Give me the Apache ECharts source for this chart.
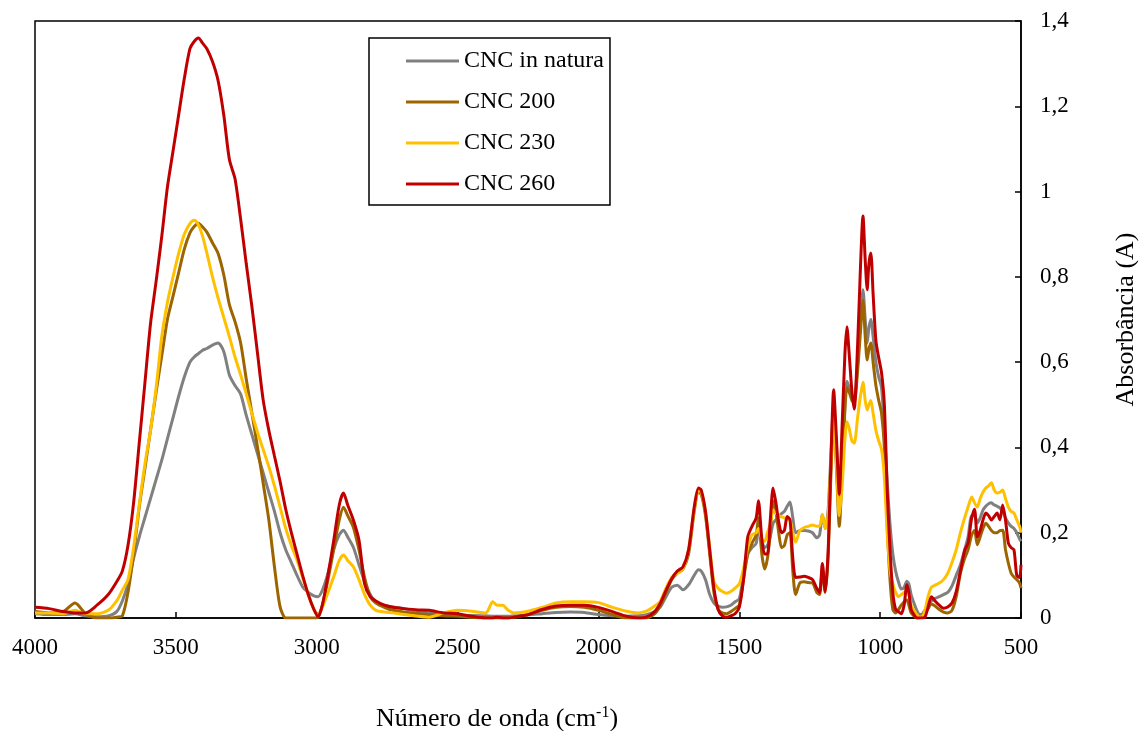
<!DOCTYPE html>
<html>
<head>
<meta charset="utf-8">
<script src="https://cdn.jsdelivr.net/npm/echarts@6/dist/echarts.min.js"></script>
<style>
html, body { margin: 0; padding: 0; background: #fff; }
#chart { width: 1143px; height: 731px; }
</style>
</head>
<body>
<div id="chart"></div>
<script>
var seriesNames = ['CNC in natura', 'CNC 200', 'CNC 230', 'CNC 260'];
var colors = ['#808080', '#9c6500', '#ffc000', '#c00000'];

// número de onda (cm-1)
var wn = [
    4000,3950,3900,3858,3820,3780,3740,3710,3690,3670,
    3650,3630,3610,3590,3570,3550,3530,3510,3490,3470,
    3450,3435,3420,3405,3390,3370,3350,3330,3310,3290,
    3270,3250,3230,3210,3190,3170,3150,3130,3110,3090,
    3070,3050,3030,3010,2995,2980,2960,2940,2920,2905,
    2890,2870,2850,2830,2810,2790,2760,2730,2690,2640,
    2600,2550,2500,2450,2400,2375,2360,2340,2320,2300,
    2250,2200,2150,2100,2050,2000,1950,1900,1860,1830,
    1800,1780,1760,1740,1720,1700,1680,1660,1645,1635,
    1620,1605,1590,1575,1560,1545,1530,1515,1500,1485,
    1470,1455,1440,1432,1420,1410,1400,1390,1380,1370,
    1360,1350,1340,1330,1320,1310,1300,1285,1270,1255,
    1240,1225,1215,1205,1195,1185,1175,1165,1155,1145,
    1135,1125,1118,1110,1100,1092,1080,1070,1061,1053,
    1046,1040,1033,1025,1015,1005,995,985,975,965,
    955,945,935,925,915,905,898,890,880,870,
    860,850,840,830,818,805,790,775,760,745,
    730,715,700,688,675,665,655,645,635,625,
    615,605,595,585,575,565,555,545,535,525,
    515,505,500
];

var inNatura = [
    .010,.008,.008,.010,.005,.003,.005,.015,.040,.080,
    .140,.190,.235,.280,.325,.370,.420,.470,.520,.565,
    .600,.612,.620,.628,.632,.640,.645,.625,.570,.545,
    .525,.475,.430,.385,.340,.295,.250,.200,.160,.130,
    .100,.073,.060,.052,.050,.065,.105,.160,.195,.206,
    .190,.166,.125,.085,.055,.037,.030,.026,.022,.015,
    .012,.008,.006,.006,.005,.004,.004,.004,.004,.005,
    .007,.010,.013,.014,.013,.008,.005,.004,.005,.008,
    .015,.026,.050,.072,.077,.066,.078,.100,.113,.110,
    .090,.055,.035,.028,.025,.026,.030,.038,.045,.100,
    .150,.165,.175,.210,.180,.165,.170,.190,.222,.230,
    .238,.245,.250,.262,.272,.235,.200,.205,.205,.204,
    .200,.188,.195,.242,.210,.250,.380,.500,.400,.260,
    .360,.500,.555,.540,.515,.510,.600,.700,.770,.700,
    .645,.680,.700,.660,.600,.565,.540,.440,.320,.220,
    .150,.110,.085,.068,.072,.086,.080,.055,.035,.018,
    .008,.010,.020,.030,.040,.046,.050,.055,.060,.075,
    .100,.125,.160,.190,.240,.240,.223,.235,.253,.262,
    .268,.270,.265,.262,.258,.250,.235,.223,.215,.210,
    .200,.185,.180
];

var cnc200 = [
    .015,.012,.015,.035,.010,.000,.000,.002,.005,.060,
    .150,.260,.350,.440,.530,.615,.700,.755,.810,.865,
    .903,.918,.926,.917,.905,.880,.855,.805,.735,.695,
    .645,.560,.480,.400,.316,.230,.120,.026,.000,.000,
    .000,.000,.000,.000,.002,.030,.090,.160,.230,.260,
    .240,.213,.160,.095,.050,.035,.025,.018,.014,.010,
    .008,.005,.004,.002,.000,.000,.000,.000,.000,.002,
    .008,.018,.025,.027,.025,.018,.008,.000,.000,.000,
    .010,.030,.060,.090,.105,.115,.150,.250,.295,.290,
    .240,.150,.060,.020,.012,.010,.015,.022,.030,.090,
    .150,.175,.195,.235,.150,.115,.140,.200,.275,.250,
    .200,.165,.170,.195,.200,.110,.055,.082,.085,.083,
    .082,.060,.055,.115,.060,.140,.330,.480,.350,.215,
    .340,.490,.540,.530,.510,.505,.580,.670,.745,.660,
    .605,.630,.645,.600,.545,.510,.480,.400,.220,.090,
    .020,.012,.020,.030,.038,.042,.030,.012,.005,.000,
    .000,.005,.012,.022,.033,.028,.020,.014,.012,.018,
    .050,.105,.140,.160,.195,.205,.172,.190,.210,.222,
    .215,.205,.200,.200,.205,.206,.160,.129,.105,.096,
    .090,.082,.070
];

var cnc230 = [
    .012,.012,.010,.018,.010,.010,.018,.040,.065,.090,
    .165,.265,.360,.440,.540,.660,.740,.800,.855,.900,
    .925,.933,.922,.895,.856,.800,.750,.705,.660,.612,
    .570,.525,.480,.435,.395,.355,.310,.260,.210,.170,
    .136,.095,.055,.020,.008,.025,.060,.096,.135,.148,
    .135,.120,.090,.055,.030,.018,.014,.012,.008,.004,
    .002,.012,.018,.016,.012,.038,.030,.030,.018,.012,
    .016,.025,.035,.038,.038,.036,.025,.016,.012,.016,
    .028,.040,.070,.095,.105,.115,.160,.255,.300,.295,
    .250,.165,.085,.070,.062,.058,.062,.070,.080,.115,
    .165,.195,.200,.210,.185,.180,.200,.220,.253,.245,
    .240,.237,.235,.232,.230,.200,.178,.205,.212,.215,
    .218,.215,.215,.242,.210,.240,.360,.470,.360,.240,
    .310,.420,.460,.445,.415,.410,.470,.520,.553,.510,
    .488,.500,.510,.480,.440,.415,.395,.330,.200,.113,
    .080,.060,.050,.055,.060,.066,.055,.030,.018,.008,
    .002,.003,.020,.050,.072,.077,.082,.090,.105,.130,
    .160,.200,.235,.260,.284,.270,.260,.280,.295,.305,
    .310,.317,.300,.293,.295,.300,.280,.260,.250,.246,
    .230,.215,.200
];

var cnc260 = [
    .025,.022,.015,.012,.012,.030,.055,.085,.110,.170,
    .270,.410,.550,.690,.790,.895,1.010,1.095,1.180,1.265,
    1.335,1.352,1.360,1.348,1.335,1.305,1.260,1.180,1.075,1.030,
    .935,.830,.730,.620,.511,.440,.380,.320,.255,.200,
    .150,.100,.055,.020,.003,.030,.100,.180,.265,.293,
    .265,.230,.183,.080,.050,.040,.030,.025,.022,.019,
    .018,.012,.010,.004,.000,.000,.002,.000,.000,.002,
    .008,.020,.028,.030,.030,.025,.015,.004,.000,.002,
    .015,.035,.065,.092,.110,.120,.160,.260,.305,.300,
    .250,.160,.070,.020,.005,.002,.005,.010,.025,.090,
    .190,.215,.235,.275,.185,.150,.150,.230,.305,.270,
    .225,.200,.205,.238,.230,.140,.095,.096,.098,.095,
    .090,.070,.060,.128,.062,.150,.360,.535,.420,.290,
    .450,.620,.683,.620,.530,.490,.640,.820,.943,.840,
    .770,.830,.856,.760,.650,.610,.575,.500,.300,.160,
    .060,.020,.015,.010,.030,.078,.060,.020,.008,.000,
    .000,.000,.003,.025,.050,.040,.030,.023,.026,.035,
    .062,.110,.158,.176,.235,.255,.190,.205,.230,.246,
    .240,.230,.238,.246,.230,.265,.230,.176,.165,.160,
    .100,.095,.125
];

var xTicks = [4000, 3500, 3000, 2500, 2000, 1500, 1000, 500];

var chart = echarts.init(document.getElementById('chart'));
var serif = 'Liberation Serif';

function makeSeries(idx, values) {
    return {
        name: seriesNames[idx],
        type: 'line',
        showSymbol: false,
        symbol: 'none',
        smooth: 0.25,
        clip: true,
        lineStyle: { width: 3, color: colors[idx] },
        itemStyle: { color: colors[idx] },
        data: wn.map(function (w, i) { return [w, values[i]]; })
    };
}

chart.setOption({
    backgroundColor: '#fff',
    animation: false,
    grid: {
        left: 35, right: 122, top: 21, bottom: 113,
        outerBoundsMode: 'none',
        containLabel: false,
        show: true, borderColor: '#000', borderWidth: 1.5
    },
    legend: {
        left: 369, top: 38,
        orient: 'vertical',
        backgroundColor: '#fff',
        borderColor: '#000',
        borderWidth: 1.5,
        borderRadius: 0,
        padding: [11, 6, 9, 37],
        itemGap: 17,
        itemWidth: 53,
        itemHeight: 3,
        icon: 'rect',
        textStyle: { fontFamily: serif, fontSize: 24, color: '#000' },
        data: seriesNames
    },
    xAxis: {
        type: 'value',
        inverse: true,
        min: 500,
        max: 4000,
        interval: 500,
        name: 'Número de onda (cm{sup|-1})',
        nameLocation: 'middle',
        nameGap: 87,
        nameTextStyle: {
            fontFamily: serif, fontSize: 26, color: '#000',
            padding: [0, 62, 0, 0],
            rich: {
                sup: { fontFamily: serif, fontSize: 16, color: '#000', verticalAlign: 'top', padding: [0, 0, 13, 0] }
            }
        },
        axisLine: { show: true, lineStyle: { color: '#000', width: 1.5 } },
        axisTick: { show: true, inside: true, length: 6, lineStyle: { color: '#000', width: 1.5 } },
        axisLabel: {
            fontFamily: serif, fontSize: 23, color: '#000', margin: 18,
            formatter: function (v) { return xTicks.indexOf(v) >= 0 ? String(v) : ''; }
        },
        splitLine: { show: false }
    },
    yAxis: {
        type: 'value',
        position: 'right',
        min: 0,
        max: 1.4,
        interval: 0.2,
        name: 'Absorbância (A)',
        nameLocation: 'middle',
        nameGap: 92,
        nameRotate: 90,
        nameTextStyle: { fontFamily: serif, fontSize: 26, color: '#000' },
        axisLine: { show: true, lineStyle: { color: '#000', width: 1.5 } },
        axisTick: { show: true, inside: true, length: 6, lineStyle: { color: '#000', width: 1.5 } },
        axisLabel: {
            fontFamily: serif, fontSize: 23, color: '#000', margin: 19,
            formatter: function (v) { return String(Math.round(v * 10) / 10).replace('.', ','); }
        },
        splitLine: { show: false }
    },
    series: [
        makeSeries(0, inNatura),
        makeSeries(1, cnc200),
        makeSeries(2, cnc230),
        makeSeries(3, cnc260)
    ]
});
</script>
</body>
</html>
